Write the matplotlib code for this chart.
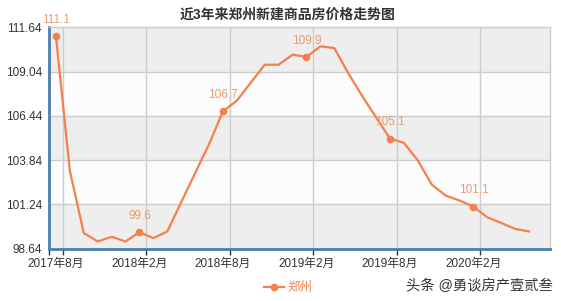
import matplotlib
matplotlib.use("Agg")
import matplotlib.pyplot as plt
from matplotlib.lines import Line2D

plt.rcParams['font.family'] = ['Liberation Sans', 'Noto Sans CJK SC', 'DejaVu Sans']

title = "近3年来郑州新建商品房价格走势图"
series_name = "郑州"
watermark = "头条 @勇谈房产壹贰叁"

# monthly categories 2017-08 .. 2020-07
months = []
y, m = 2017, 8
for _ in range(36):
    months.append(f"{y}年{m}月")
    m += 1
    if m > 12:
        m = 1
        y += 1

values = [111.1, 103.2, 99.55, 99.05, 99.33, 99.05, 99.6, 99.25, 99.64, 101.36,
          103.07, 104.77, 106.7, 107.33, 108.39, 109.44, 109.44, 110.03, 109.9, 110.52,
          110.42, 108.95, 107.61, 106.35, 105.1, 104.85, 103.82, 102.40, 101.75, 101.46,
          101.1, 100.47, 100.14, 99.79, 99.64]

labeled_idx = [0, 6, 12, 18, 24, 30]
y_ticks = [98.64, 101.24, 103.84, 106.44, 109.04, 111.64]

line_color = '#f4804b'
label_color = '#eb9b6e'
axis_color = '#4a7fad'
grid_color = '#cccccc'

fig = plt.figure(figsize=(5.61, 3.01), dpi=100)
ax = fig.add_axes([49/561, 1-248.5/301, (550-49)/561, (248.5-27.3)/301])

ax.set_xlim(-0.5, len(months)-0.5)
ax.set_ylim(y_ticks[0], y_ticks[-1])

# alternating bands
for i in range(len(y_ticks)-1):
    c = '#eeeeee' if i % 2 == 0 else '#fcfcfc'
    ax.axhspan(y_ticks[i], y_ticks[i+1], color=c, zorder=0, lw=0)

for yt in y_ticks[1:-1]:
    ax.axhline(yt, color=grid_color, lw=1, zorder=1)
grid_x = [i + 0.5 for i in range(0, len(months)-1, 6)]
for gx in grid_x:
    ax.axvline(gx, color=grid_color, lw=1, zorder=1)

xs = list(range(len(values)))
ax.plot(xs, values, color=line_color, lw=1.6, zorder=3, solid_joinstyle='round')
ax.plot([xs[i] for i in labeled_idx], [values[i] for i in labeled_idx], 'o',
        color=line_color, ms=4.5, zorder=4)
for i in labeled_idx:
    ax.annotate(f"{values[i]:.1f}", (xs[i], values[i]), xytext=(0, 9.5),
                textcoords='offset points', ha='center', va='baseline',
                color=label_color, fontsize=8.5, annotation_clip=False)

ax.set_yticks(y_ticks)
ax.set_yticklabels([f"{v:.2f}" for v in y_ticks], fontsize=8.5, color='#333333')
ax.set_xticks(list(range(0, len(months), 6)))
ax.set_xticklabels([months[i] for i in range(0, len(months), 6)], fontsize=8.5,
                   color='#333333')
ax.tick_params(axis='x', length=0, pad=7)
ax.tick_params(axis='y', length=0, pad=5)
ax.set_xticks([-0.5] + grid_x, minor=True)
ax.tick_params(axis='x', which='minor', length=4, color='#333333', width=1)

for s in ['left', 'bottom']:
    ax.spines[s].set_color(axis_color)
    ax.spines[s].set_linewidth(2)
for s in ['top', 'right']:
    ax.spines[s].set_color(grid_color)
    ax.spines[s].set_linewidth(1)

fig.text(288/561, 1-15/301, title, ha='center', va='center', fontsize=10,
         fontweight='bold', color='#333333')

handle = Line2D([0], [0], color=line_color, lw=1.6, marker='o', ms=4.5)
fig.legend([handle], [series_name], loc='center', bbox_to_anchor=(288/561, 1-288/301),
           frameon=False, fontsize=9, labelcolor=line_color, handlelength=1.6,
           handletextpad=0.3)

fig.text(553/561, 1-286/301, watermark, ha='right', va='center', fontsize=10.3,
         color='#333333')

fig.savefig('out.png', dpi=100)
